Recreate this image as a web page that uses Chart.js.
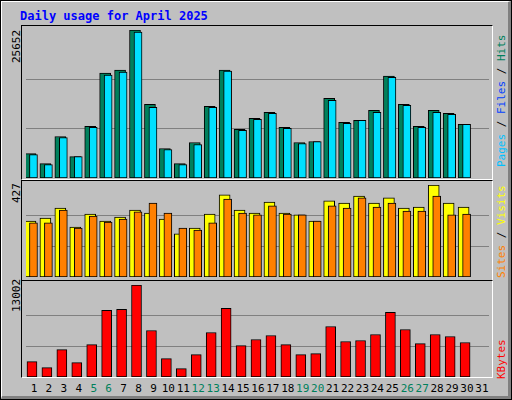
<!DOCTYPE html>
<html><head><meta charset="utf-8">
<script src="https://cdn.jsdelivr.net/npm/chart.js@4/dist/chart.umd.min.js"></script>
<style>
body{margin:0;background:#fff;}
#wrap{position:relative;width:510px;height:398px;background:#c0c0c0;border:1px solid #000;overflow:hidden;}
#wrap:after{content:'';position:absolute;left:0;top:0;right:0;bottom:0;border-right:3px solid #808080;border-bottom:3px solid #808080;border-left:1px solid #fff;border-top:1px solid #fff;pointer-events:none;}
.t{position:absolute;font-family:"DejaVu Sans Mono",monospace;font-size:11px;white-space:nowrap;}
.panel{position:absolute;left:20px;width:470px;border-top:1px solid #000;border-left:1px solid #000;border-right:1px solid #fff;border-bottom:1px solid #fff;}
.cv{position:absolute;left:25px;width:463px;}
.rot{transform:rotate(-90deg);transform-origin:0 0;}
</style></head><body>
<div id="wrap">
  <div class="t" style="left:19px;top:8px;color:#0000ff;font-weight:bold;font-size:12px;">Daily usage for April 2025</div>
  <div class="panel" style="top:24px;height:153px;"></div>
  <div class="panel" style="top:179px;height:99px;"></div>
  <div class="panel" style="top:279px;height:96px;"></div>
  <div class="cv" style="top:29px;height:148px;"><canvas id="c1"></canvas></div>
  <div class="cv" style="top:184px;height:92px;"><canvas id="c2"></canvas></div>
  <div class="cv" style="top:284px;height:92px;"><canvas id="c3"></canvas></div>
  <div class="t rot" style="left:9px;top:62px;color:#000;">25652</div>
  <div class="t rot" style="left:9px;top:202px;color:#000;">427</div>
  <div class="t rot" style="left:9px;top:311px;color:#000;">13002</div>
  <div class="t rot" style="left:494px;top:166px;"><span style="color:#00c0ff">Pages</span><span style="color:#000"> / </span><span style="color:#0040ff">Files</span><span style="color:#000"> / </span><span style="color:#00805c">Hits</span></div>
  <div class="t rot" style="left:494px;top:277px;"><span style="color:#ff8000">Sites</span><span style="color:#000"> / </span><span style="color:#ffff00">Visits</span></div>
  <div class="t rot" style="left:494px;top:378px;color:#ff0000;">KBytes</div>
  <div id="days"></div>
</div>
<script>
const days = Array.from({length: 31}, (_, i) => i + 1);
const weekend = [5, 6, 12, 13, 19, 20, 26, 27];
const hits = [4237,2496,7197,3715,8938,18167,18689,25652,12769,5108,2496,6152,12421,18689,8416,10331,11376,8764,6152,6326,13813,9635,9983,11724,17644,12769,8938,11724,11202,9286];
const files = [4063,2322,7023,3715,8764,17818,18341,25306,12246,4933,2322,5804,12246,18515,8242,10157,11202,8590,5978,6326,13465,9461,9983,11376,17470,12595,8764,11376,11028,9286];
const visits = [260,274,320,232,292,260,278,311,297,269,200,227,292,381,311,297,348,297,288,260,353,343,376,343,367,320,325,427,343,325];
const sites = [251,251,311,227,283,255,269,302,343,297,227,218,251,362,297,288,330,292,288,260,330,320,367,325,343,306,306,376,288,292];
const kbytes = [2175,1324,3877,2033,4586,9409,9551,13002,6572,2600,1182,3168,6288,9692,4444,5295,5863,4586,3168,3310,7139,5012,5154,6005,9125,6714,4728,6005,5721,4870];

// day labels
const dl = document.getElementById('days');
days.forEach(d => {
    const s = document.createElement('div');
    s.className = 't';
    s.style.left = (33 + (d - 1) * 14.93 - 10) + 'px';
    s.style.width = '20px';
    s.style.textAlign = 'center';
    s.style.top = '381px';
    s.style.color = weekend.includes(d) ? '#00805c' : '#000';
    s.textContent = d;
    dl.appendChild(s);
});

function ds(vals, shift, color, w, order) {
    return {
        data: vals, shift: shift, order: order,
        backgroundColor: color, borderColor: '#000', borderWidth: 1,
        barThickness: w, borderSkipped: false, clip: false
    };
}

// move each dataset sideways by a few pixels, like the overlapped webalizer bars
const shiftPlugin = {
    id: 'shift',
    afterDatasetsUpdate(chart) {
        chart.data.datasets.forEach((d, i) => {
            chart.getDatasetMeta(i).data.forEach(el => { el.x += d.shift; });
        });
    }
};

function panel(id, sets, max) {
    new Chart(document.getElementById(id), {
        type: 'bar',
        data: { labels: days, datasets: sets },
        plugins: [shiftPlugin],
        options: {
            responsive: true, maintainAspectRatio: false, animation: false,
            layout: { padding: 0 },
            datasets: { bar: { grouped: false } },
            plugins: { legend: { display: false }, tooltip: { enabled: false } },
            scales: {
                x: { display: false, offset: true },
                y: {
                    min: 0, max: max,
                    afterBuildTicks: ax => { ax.ticks = [{ value: max / 3 }, { value: max * 2 / 3 }]; },
                    grid: { color: '#808080', drawTicks: false },
                    border: { display: false },
                    ticks: { display: false }
                }
            }
        }
    });
}

panel('c1', [ds(hits, -3, '#00805c', 11, 2), ds(files, 0, '#00e0ff', 8, 1)], 25652);
panel('c2', [ds(visits, -3, '#ffff00', 11, 2), ds(sites, 0, '#ff8000', 8, 1)], 427);
panel('c3', [ds(kbytes, -1.5, '#ff0000', 10, 1)], 13002);
</script>
</body></html>
